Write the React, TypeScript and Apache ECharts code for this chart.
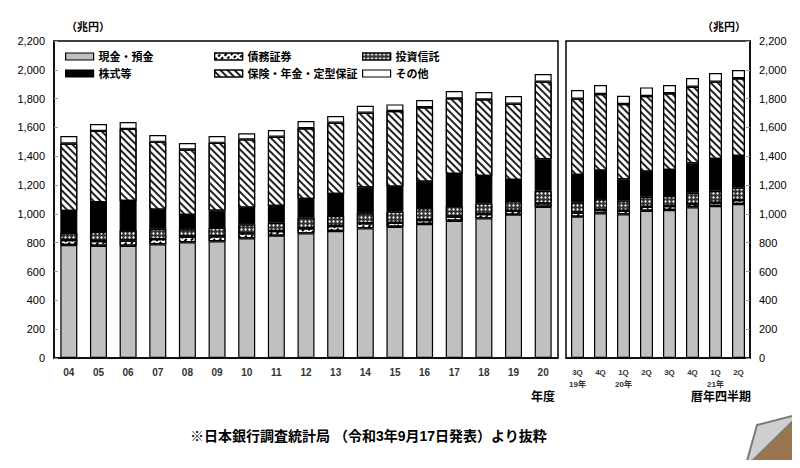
import React, { useEffect, useRef } from "react";
import * as echarts from "echarts";

const years = ["04","05","06","07","08","09","10","11","12","13","14","15","16","17","18","19","20"];
const quarters = ["3Q\n19年","4Q","1Q\n20年","2Q","3Q","4Q","1Q\n21年","2Q"];

const seriesNames = ["現金・預金", "債務証券", "投資信託", "株式等", "保険・年金・定型保証", "その他"];

const cashFY = [784,779,779,789,803,810,830,849,865,881,900,911,930,953,969,995,1050];
const bondFY = [35,33,36,36,38,35,35,32,35,35,35,28,28,28,30,27,23];
const itFY = [48,62,72,72,52,58,62,58,74,69,69,76,81,74,74,68,88];
const eqFY = [153,208,203,132,99,120,116,116,129,153,180,174,185,222,190,145,218];
const insFY = [469,494,500,471,455,470,474,481,491,495,518,525,516,525,532,530,539];
const otherFY = [52,48,48,48,45,48,42,46,51,46,48,46,50,51,51,53,53];

const cashQ = [981,1004,997,1022,1027,1046,1055,1069];
const bondQ = [28,23,25,28,28,23,23,27];
const itQ = [71,74,70,69,69,78,83,86];
const eqQ = [190,199,148,174,181,204,220,220];
const insQ = [530,532,523,525,532,532,537,539];
const otherQ = [60,63,57,60,58,60,60,58];

const FONT = "'Liberation Sans', 'Noto Sans CJK JP', sans-serif";

const styles: any[] = [
  { color: "#c0c0c0" },
  {
    color: "#ffffff",
    decal: { symbol: "rect", color: "#000", backgroundColor: "#fff", dashArrayX: [[3, 1.5]], dashArrayY: [2, 1.5], rotation: -Math.PI / 4 },
  },
  {
    color: "#333333",
    decal: { symbol: "circle", symbolSize: 0.75, color: "#ffffff", backgroundColor: "#333333", dashArrayX: [3, 1], dashArrayY: [3, 1] },
  },
  { color: "#000000" },
  {
    color: "#ffffff",
    decal: { symbol: "rect", color: "#222", backgroundColor: "#fff", dashArrayX: [1, 0], dashArrayY: [1.3, 2.4], rotation: Math.PI / 4 },
  },
  { color: "#ffffff" },
];

export default function App() {
  const ref = useRef<HTMLDivElement>(null);
  useEffect(() => {
    if (!ref.current) return;
    const chart = echarts.init(ref.current, null, { renderer: "svg" });
    const fyData = [cashFY, bondFY, itFY, eqFY, insFY, otherFY];
    const qData = [cashQ, bondQ, itQ, eqQ, insQ, otherQ];
    const series: any[] = [];
    seriesNames.forEach((n, i) => {
      series.push({
        name: n, type: "bar", stack: "L", xAxisIndex: 0, yAxisIndex: 0, barWidth: 17,
        data: fyData[i],
        itemStyle: { ...styles[i], borderColor: "#000", borderWidth: 1.2 },
      });
    });
    seriesNames.forEach((n, i) => {
      series.push({
        name: n, type: "bar", stack: "R", xAxisIndex: 1, yAxisIndex: 1, barWidth: 13,
        data: qData[i],
        itemStyle: { ...styles[i], borderColor: "#000", borderWidth: 1.2 },
      });
    });
    const legendPos = [
      [60, 46], [209, 46], [357, 46],
      [60, 63], [209, 63], [357, 63],
    ];
    const legends = seriesNames.map((n, i) => ({
      data: [n],
      left: legendPos[i][0], top: legendPos[i][1],
      icon: "rect", itemWidth: 28, itemHeight: 7, itemGap: 4,
      selectedMode: false,
      itemStyle: { borderColor: "#000", borderWidth: 1.2 },
      textStyle: { fontFamily: FONT, fontSize: 11, fontWeight: "bold", color: "#000", padding: [0, 0, 0, 0] },
    }));
    const yLabel = (v: number) => v.toLocaleString("en-US");
    const option: any = {
      animation: false,
      legend: legends,
      grid: [
        { left: 54, top: 41, width: 504, height: 317, show: true, borderColor: "#000", borderWidth: 1.5, backgroundColor: "transparent" },
        { left: 566, top: 41, width: 184, height: 317, show: true, borderColor: "#000", borderWidth: 1.5, backgroundColor: "transparent" },
      ],
      xAxis: [
        {
          type: "category", gridIndex: 0, data: years,
          axisLine: { lineStyle: { color: "#000", width: 1.5 } },
          axisTick: { inside: true, length: 3, lineStyle: { color: "#999" } },
          axisLabel: { fontFamily: FONT, fontSize: 10, fontWeight: "bold", color: "#333", margin: 9 },
        },
        {
          type: "category", gridIndex: 1, data: quarters,
          axisLine: { lineStyle: { color: "#000", width: 1.5 } },
          axisTick: { inside: true, length: 3, lineStyle: { color: "#999" } },
          axisLabel: { fontFamily: FONT, fontSize: 8, fontWeight: "bold", color: "#333", margin: 8, lineHeight: 12, verticalAlign: "top" },
        },
      ],
      yAxis: [
        {
          type: "value", gridIndex: 0, min: 0, max: 2200, interval: 200,
          axisLine: { show: true, lineStyle: { color: "#000", width: 1.5 } },
          axisTick: { show: true, inside: true, length: 4, lineStyle: { color: "#999" } },
          splitLine: { show: false },
          axisLabel: { fontFamily: FONT, fontSize: 11, color: "#000", margin: 9, formatter: yLabel },
        },
        {
          type: "value", gridIndex: 1, min: 0, max: 2200, interval: 200, position: "right",
          axisLine: { show: true, lineStyle: { color: "#000", width: 1.5 } },
          axisTick: { show: true, inside: true, length: 4, lineStyle: { color: "#999" } },
          splitLine: { show: false },
          axisLabel: { fontFamily: FONT, fontSize: 11, color: "#000", margin: 9, formatter: yLabel },
        },
      ],
      series,
      graphic: [
        { type: "text", left: 66, top: 21, style: { text: "（兆円）", font: `bold 11px ${FONT}`, fill: "#000" } },
        { type: "text", left: 702, top: 21, style: { text: "（兆円）", font: `bold 11px ${FONT}`, fill: "#000" } },
        { type: "text", left: 531, top: 391, style: { text: "年度", font: `bold 12px ${FONT}`, fill: "#000" } },
        { type: "text", left: 691, top: 391, style: { text: "暦年四半期", font: `bold 12px ${FONT}`, fill: "#000" } },
        { type: "text", left: 190, top: 429, style: { text: "※日本銀行調査統計局 （令和3年9月17日発表）より抜粋", font: `bold 14px ${FONT}`, fill: "#000" } },
        { type: "polygon", shape: { points: [[800, 414], [800, 468], [745, 468]] }, style: { fill: "#9a7650" } },
        { type: "polygon", shape: { points: [[757, 425], [800, 414], [745, 468]] }, style: { fill: "#cfcfcf", stroke: "#7a7a7a", lineWidth: 2 } },
      ],
    };
    chart.setOption(option);
    return () => chart.dispose();
  }, []);
  return <div ref={ref} style={{ width: 800, height: 468, margin: -8 }} />;
}
